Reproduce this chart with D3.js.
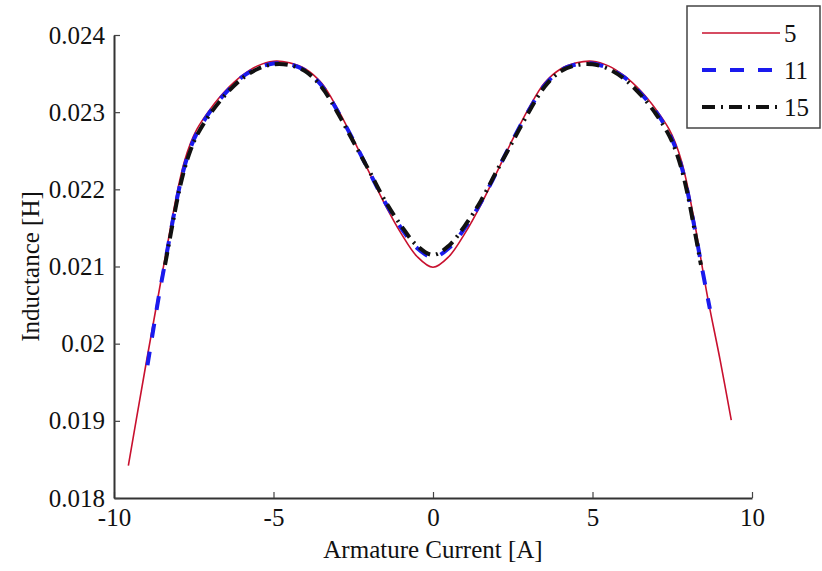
<!DOCTYPE html>
<html>
<head>
<meta charset="utf-8">
<script src="https://cdn.jsdelivr.net/npm/d3@7"></script>
<style>
  body { margin: 0; background: #fff; }
  svg text { font-family: "Liberation Serif", "DejaVu Serif", serif; fill: #111; }
</style>
</head>
<body>
<div class="chart"></div>
<script>
const width = 822,
    height = 571;

// Series (x = armature current [A], y = inductance [H])
const xRed = [-9.55, -9.3, -9.0, -8.6, -8.2, -8.0, -7.8, -7.6, -7.4, -7.0, -6.5, -6.0, -5.5, -5.0, -4.5, -4.0, -3.5, -3.0, -2.5, -2.0, -1.5, -1.0, -0.5, 0,
    0.5, 1.0, 1.5, 2.0, 2.5, 3.0, 3.5, 4.0, 4.5, 5.0, 5.5, 6.0, 6.5, 7.0, 7.4, 7.6, 7.8, 8.0, 8.2, 8.6, 9.0, 9.35];
const yRed = [0.01842, 0.01902, 0.01973, 0.02065, 0.02157, 0.022, 0.02235, 0.0226, 0.02278, 0.02303, 0.02328, 0.02347, 0.0236, 0.02366, 0.02364, 0.02356, 0.02338, 0.02305, 0.02265, 0.02222, 0.0218, 0.02143, 0.02113, 0.02099,
    0.02113, 0.02143, 0.0218, 0.02222, 0.02265, 0.02305, 0.02338, 0.02356, 0.02364, 0.02366, 0.0236, 0.02347, 0.02328, 0.02303, 0.02278, 0.0226, 0.02235, 0.022, 0.02157, 0.02062, 0.01979, 0.01901];

const xBlue = [-8.95, -8.6, -8.4, -8.2, -8.0, -7.8, -7.6, -7.4, -7.0, -6.5, -6.0, -5.5, -5.0, -4.5, -4.0, -3.5, -3.0, -2.5, -2.0, -1.5, -1.0, -0.5, 0,
    0.5, 1.0, 1.5, 2.0, 2.5, 3.0, 3.5, 4.0, 4.5, 5.0, 5.5, 6.0, 6.5, 7.0, 7.4, 7.6, 7.8, 8.0, 8.2, 8.4, 8.68];
const yBlue = [0.01972, 0.0206, 0.02105, 0.0215, 0.02193, 0.02228, 0.02254, 0.02273, 0.023, 0.02325, 0.02345, 0.02357, 0.02363, 0.02362, 0.02354, 0.02335, 0.02302, 0.02264, 0.02223, 0.02183, 0.0215, 0.02124, 0.02112,
    0.02124, 0.0215, 0.02183, 0.02223, 0.02264, 0.02302, 0.02335, 0.02354, 0.02362, 0.02363, 0.02357, 0.02345, 0.02325, 0.023, 0.02273, 0.02254, 0.02228, 0.02193, 0.0215, 0.02105, 0.02045];

const xBlack = [-8.4, -8.2, -8.0, -7.8, -7.6, -7.4, -7.0, -6.5, -6.0, -5.5, -5.0, -4.5, -4.0, -3.5, -3.0, -2.5, -2.0, -1.5, -1.0, -0.5, 0,
    0.5, 1.0, 1.5, 2.0, 2.5, 3.0, 3.5, 4.0, 4.5, 5.0, 5.5, 6.0, 6.5, 7.0, 7.4, 7.6, 7.8, 8.0, 8.2, 8.4];
const yBlack = [0.02102, 0.02147, 0.0219, 0.02225, 0.02251, 0.0227, 0.02297, 0.02323, 0.02343, 0.02356, 0.02362, 0.02361, 0.02353, 0.02333, 0.023, 0.02262, 0.02224, 0.02185, 0.02153, 0.02127, 0.02115,
    0.02127, 0.02153, 0.02185, 0.02224, 0.02262, 0.023, 0.02333, 0.02353, 0.02361, 0.02362, 0.02356, 0.02343, 0.02323, 0.02297, 0.0227, 0.02251, 0.02225, 0.0219, 0.02147, 0.02102];

const seriesNames = ["5", "11", "15"];
const xTicks = [-10, -5, 0, 5, 10];
const xTickLabels = ["-10", "-5", "0", "5", "10"];
const yTicks = [0.018, 0.019, 0.02, 0.021, 0.022, 0.023, 0.024];
const yTickLabels = ["0.018", "0.019", "0.02", "0.021", "0.022", "0.023", "0.024"];

const series = [
    { name: seriesNames[0], data: xRed.map((x, i) => ({ x: x, y: yRed[i] })), color: "#c8102e", width: 1.6, dash: null },
    { name: seriesNames[1], data: xBlue.map((x, i) => ({ x: x, y: yBlue[i] })), color: "#1a1aee", width: 4, dash: "14,14" },
    { name: seriesNames[2], data: xBlack.map((x, i) => ({ x: x, y: yBlack[i] })), color: "#111", width: 4, dash: "13,6,2,6" }
];

const x = d3.scaleLinear().domain([-10, 10]).range([114, 752]);
const y = d3.scaleLinear().domain([0.018, 0.024]).range([498, 35]);

const svg = d3.select(".chart")
    .append("svg")
    .attr("width", width)
    .attr("height", height);

// axes (MATLAB style, inward ticks)
const xAxis = d3.axisBottom(x)
    .tickValues(xTicks)
    .tickFormat((d, i) => xTickLabels[i])
    .tickSize(-6)
    .tickPadding(10)
    .tickSizeOuter(0);

const yAxis = d3.axisLeft(y)
    .tickValues(yTicks)
    .tickFormat((d, i) => yTickLabels[i])
    .tickSize(-6)
    .tickPadding(9)
    .tickSizeOuter(0);

const gx = svg.append("g")
    .attr("transform", `translate(0, ${y(0.018)})`)
    .call(xAxis);

const gy = svg.append("g")
    .attr("transform", `translate(${x(-10)}, 0)`)
    .call(yAxis);

[gx, gy].forEach(g => {
    g.select(".domain").attr("stroke", "#333").attr("stroke-width", 2);
    g.selectAll(".tick line").attr("stroke", "#444").attr("stroke-width", 1.2);
    g.selectAll(".tick text")
        .attr("font-size", 25)
        .attr("font-family", "Liberation Serif")
        .attr("fill", "#111");
});

svg.append("text")
    .text("Armature Current [A]")
    .attr("x", x(0))
    .attr("y", 558)
    .attr("text-anchor", "middle")
    .attr("font-size", 25);

svg.append("text")
    .text("Inductance [H]")
    .attr("transform", `translate(${39}, ${y(0.021)}) rotate(-90)`)
    .attr("text-anchor", "middle")
    .attr("font-size", 25);

// lines
const line = d3.line()
    .x(d => x(d.x))
    .y(d => y(d.y))
    .curve(d3.curveCatmullRom);

svg.selectAll("path.line")
    .data(series)
    .join("path")
    .attr("class", "line")
    .attr("fill", "none")
    .attr("stroke", d => d.color)
    .attr("stroke-width", d => d.width)
    .attr("stroke-dasharray", d => d.dash)
    .attr("stroke-linejoin", "round")
    .attr("d", d => line(d.data));

// legend
const legend = svg.append("g");
legend.append("rect")
    .attr("x", 687)
    .attr("y", 6)
    .attr("width", 133)
    .attr("height", 122)
    .attr("fill", "#fff")
    .attr("stroke", "#444")
    .attr("stroke-width", 1.5);

legend.selectAll("line.leg")
    .data(series)
    .join("line")
    .attr("class", "leg")
    .attr("x1", 702)
    .attr("x2", 780)
    .attr("y1", (d, i) => 33 + i * 37)
    .attr("y2", (d, i) => 33 + i * 37)
    .attr("stroke", d => d.color)
    .attr("stroke-width", d => d.width)
    .attr("stroke-dasharray", d => d.dash);

legend.selectAll("text.leg")
    .data(series)
    .join("text")
    .attr("class", "leg")
    .attr("x", 784)
    .attr("y", (d, i) => 33 + i * 37)
    .attr("dy", "0.35em")
    .attr("font-size", 25)
    .text(d => d.name);
</script>
</body>
</html>
